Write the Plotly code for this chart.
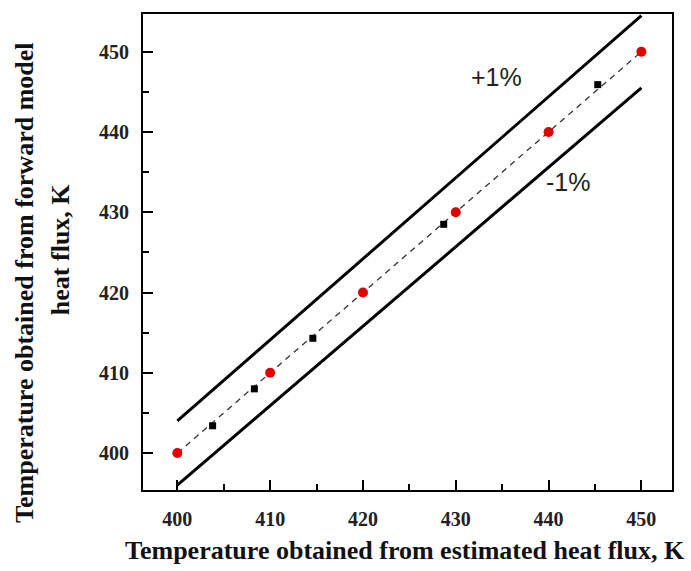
import plotly.graph_objects as go

# data
red_x = [400, 410, 420, 430, 440, 450]
red_y = [400, 410, 420, 430, 440, 450]
black_x = [403.8, 408.3, 414.6, 428.7, 445.3]
black_y = [403.4, 408.0, 414.3, 428.5, 445.9]
ref_x = [400, 450]
ref_y = [400, 450]
upper_y = [404, 454.5]
lower_y = [396, 445.5]
major_ticks = [400, 410, 420, 430, 440, 450]
minor_ticks = [405, 415, 425, 435, 445]
x_title = "Temperature obtained from estimated heat flux, K"
y_title_1 = "Temperature obtained from forward model"
y_title_2 = "heat flux, K"

SERIF = "Liberation Serif, Times New Roman, serif"
X_RANGE = [396.3, 453.3]
Y_RANGE = [395.4, 454.7]

fig = go.Figure()
fig.add_trace(go.Scatter(x=ref_x, y=upper_y, mode="lines",
                         line=dict(color="black", width=3), showlegend=False))
fig.add_trace(go.Scatter(x=ref_x, y=lower_y, mode="lines",
                         line=dict(color="black", width=3), showlegend=False))
fig.add_trace(go.Scatter(x=ref_x, y=ref_y, mode="lines",
                         line=dict(color="#333333", width=1.3, dash="6px,5px"), showlegend=False))
fig.add_trace(go.Scatter(x=black_x, y=black_y, mode="markers",
                         marker=dict(symbol="square", size=7, color="black"), showlegend=False))
fig.add_trace(go.Scatter(x=red_x, y=red_y, mode="markers",
                         marker=dict(symbol="circle", size=10, color="#e00000"), showlegend=False))

fig.add_annotation(x=434.4, y=446.8, text="+1%", showarrow=False,
                   font=dict(family="Liberation Sans, Arial", size=25, color="#222"))
fig.add_annotation(x=442.1, y=433.8, text="-1%", showarrow=False,
                   font=dict(family="Liberation Sans, Arial", size=25, color="#222"))

fig.add_annotation(xref="paper", yref="paper", x=0.5, y=-0.128, xshift=-3, text=x_title,
                   showarrow=False, xanchor="center", yanchor="middle",
                   font=dict(family=SERIF, size=26, color="#111", weight="bold"))
fig.add_annotation(xref="paper", yref="paper", x=0, xshift=-118, y=0.435, text=y_title_1,
                   showarrow=False, textangle=-90, xanchor="center", yanchor="middle",
                   font=dict(family=SERIF, size=26, color="#111", weight="bold"))
fig.add_annotation(xref="paper", yref="paper", x=0, xshift=-83, y=0.506, text=y_title_2,
                   showarrow=False, textangle=-90, xanchor="center", yanchor="middle",
                   font=dict(family=SERIF, size=26, color="#111", weight="bold"))

axis_common = dict(
    showline=True, linecolor="black", linewidth=2, mirror=True,
    ticks="inside", ticklen=10, tickwidth=2, tickcolor="black",
    tickmode="array", tickvals=major_ticks, showgrid=False, zeroline=False,
    tickfont=dict(family=SERIF, size=20, color="#222", weight="bold"),
    minor=dict(ticks="inside", ticklen=6, tickwidth=2, tickcolor="black",
               tickvals=minor_ticks, showgrid=False),
)

fig.update_layout(
    width=691, height=571, margin=dict(l=143, r=19, t=12, b=81),
    plot_bgcolor="white", paper_bgcolor="white",
    xaxis=dict(range=X_RANGE, ticklabelstandoff=10, **axis_common),
    yaxis=dict(range=Y_RANGE, ticklabelstandoff=8, **axis_common),
)
fig.write_html("out.html")
